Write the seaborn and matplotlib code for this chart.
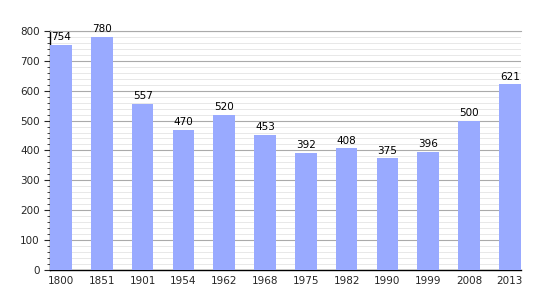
import matplotlib
matplotlib.use("Agg")
import matplotlib.pyplot as plt
import seaborn as sns
import pandas as pd
from matplotlib.ticker import MultipleLocator

years = ["1800", "1851", "1901", "1954", "1962", "1968", "1975", "1982", "1990", "1999", "2008", "2013"]
population = [754, 780, 557, 470, 520, 453, 392, 408, 375, 396, 500, 621]

df = pd.DataFrame({"year": years, "pop": population})

sns.set_style("white")
plt.rcParams['font.family'] = ['DejaVu Sans']

fig = plt.figure(figsize=(5.5, 3), dpi=100)
ax = fig.add_axes([0.091, 0.1, 0.856, 0.797])

sns.barplot(data=df, x="year", y="pop", color="#99aaff", saturation=1, width=0.53,
            linewidth=0, edgecolor="none", ax=ax, zorder=3)

ax.set_ylim(0, 800)
ax.set_xlim(-0.27, 11.27)
ax.yaxis.set_major_locator(MultipleLocator(100))
ax.yaxis.set_minor_locator(MultipleLocator(20))
ax.grid(axis="y", which="major", color="#aaaaaa", linewidth=0.8, zorder=0)
ax.grid(axis="y", which="minor", color="#e4e4e4", linewidth=0.6, zorder=0)
ax.set_axisbelow(True)

for i, v in enumerate(population):
    ax.text(i, v + 8, str(v), ha="center", va="bottom", fontsize=7.5, color="black")

ax.set_xlabel("")
ax.set_ylabel("")
ax.tick_params(axis="x", length=0, labelsize=7.5, pad=4)
ax.tick_params(axis="y", which="major", length=4, width=0.8, labelsize=7.5, left=True, direction="out")
ax.tick_params(axis="y", which="minor", length=2, width=0.6, left=True, direction="out")
ax.spines["right"].set_visible(False)
ax.spines["top"].set_color("#aaaaaa")
ax.spines["top"].set_linewidth(0.8)
ax.spines["left"].set_color("black")
ax.spines["bottom"].set_color("black")
ax.spines["left"].set_linewidth(1)
ax.spines["bottom"].set_linewidth(1)

fig.savefig("out.png", dpi=100)
